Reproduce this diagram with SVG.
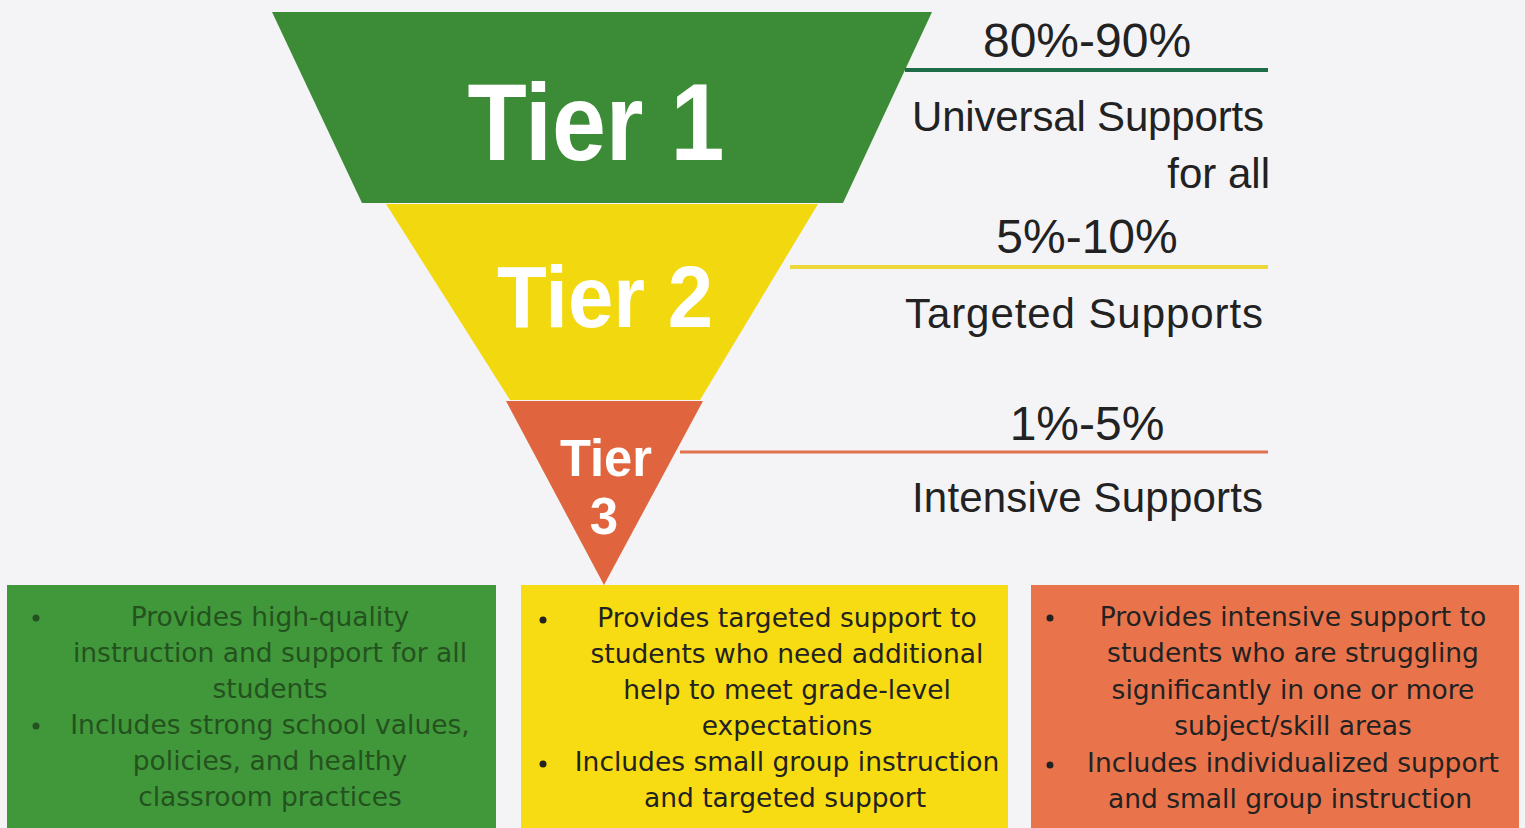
<svg xmlns="http://www.w3.org/2000/svg" width="1525" height="828" viewBox="0 0 1525 828">
<style>
.tier{font-family:"Liberation Sans",Arial,sans-serif;font-weight:bold;fill:#ffffff;text-anchor:middle}
.lbl{font-family:"Liberation Sans",Arial,sans-serif;fill:#222222}
.pct{font-size:48px;text-anchor:middle}
.sup{font-size:42px;text-anchor:end}
.box{font-family:"DejaVu Sans","Liberation Sans",sans-serif;font-size:26.5px;text-anchor:middle}
.gtxt{fill:#24521f}
.dtxt{fill:#222222}
</style>
<rect width="1525" height="828" fill="#f4f4f6"/>
<g id="tier1">
<polygon points="272,12 932,12 843,203 362,203" fill="#3c8b36"/>
<text class="tier" x="596" y="160" font-size="110" textLength="257" lengthAdjust="spacingAndGlyphs">Tier 1</text>
</g>
<g id="tier2">
<polygon points="386,204 818,204 700,400 510,400" fill="#f2d80f"/>
<text class="tier" x="605" y="327" font-size="88" textLength="216" lengthAdjust="spacingAndGlyphs">Tier 2</text>
</g>
<g id="tier3">
<polygon points="506,401 703,401 604,585" fill="#e0653e"/>
<text class="tier" x="606" y="476" font-size="51" textLength="92" lengthAdjust="spacingAndGlyphs">Tier</text>
<text class="tier" x="604" y="534" font-size="51">3</text>
</g>
<g id="connectors">
<line x1="905" y1="70" x2="1268" y2="70" stroke="#1f6d48" stroke-width="4"/>
<line x1="790" y1="267" x2="1268" y2="267" stroke="#ecd83a" stroke-width="4"/>
<line x1="680" y1="452" x2="1268" y2="452" stroke="#e0704e" stroke-width="3"/>
</g>
<g id="label1">
<text class="lbl pct" x="1087" y="57">80%-90%</text>
<text class="lbl sup" x="1264" y="131" textLength="352">Universal Supports</text>
<text class="lbl sup" x="1270" y="188">for all</text>
</g>
<g id="label2">
<text class="lbl pct" x="1087" y="253">5%-10%</text>
<text class="lbl sup" x="1263" y="328" textLength="358">Targeted Supports</text>
</g>
<g id="label3">
<text class="lbl pct" x="1087" y="440">1%-5%</text>
<text class="lbl sup" x="1263" y="512" textLength="351">Intensive Supports</text>
</g>
<g id="box1">
<rect x="7" y="585" width="489" height="243" fill="#41983a"/>
<circle cx="36" cy="618" r="3.5" fill="#24521f"/>
<circle cx="36" cy="726" r="3.5" fill="#24521f"/>
<text class="box gtxt" x="270" y="626">Provides high-quality</text>
<text class="box gtxt" x="270" y="662">instruction and support for all</text>
<text class="box gtxt" x="270" y="698">students</text>
<text class="box gtxt" x="270" y="734">Includes strong school values,</text>
<text class="box gtxt" x="270" y="770">policies, and healthy</text>
<text class="box gtxt" x="270" y="806">classroom practices</text>
</g>
<g id="box2">
<rect x="521" y="585" width="487" height="243" fill="#f8dc13"/>
<circle cx="543" cy="620" r="3.5" fill="#222"/>
<circle cx="543" cy="764" r="3.5" fill="#222"/>
<text class="box dtxt" x="787" y="627">Provides targeted support to</text>
<text class="box dtxt" x="787" y="663">students who need additional</text>
<text class="box dtxt" x="787" y="699">help to meet grade-level</text>
<text class="box dtxt" x="787" y="735">expectations</text>
<text class="box dtxt" x="787" y="771">Includes small group instruction</text>
<text class="box dtxt" x="785" y="807">and targeted support</text>
</g>
<g id="box3">
<rect x="1031" y="585" width="488" height="243" fill="#e9744c"/>
<circle cx="1050" cy="618" r="3.5" fill="#222"/>
<circle cx="1050" cy="765" r="3.5" fill="#222"/>
<text class="box dtxt" x="1293" y="626">Provides intensive support to</text>
<text class="box dtxt" x="1293" y="662">students who are struggling</text>
<text class="box dtxt" x="1293" y="699">significantly in one or more</text>
<text class="box dtxt" x="1293" y="735">subject/skill areas</text>
<text class="box dtxt" x="1293" y="772">Includes individualized support</text>
<text class="box dtxt" x="1290" y="808">and small group instruction</text>
</g>
</svg>
